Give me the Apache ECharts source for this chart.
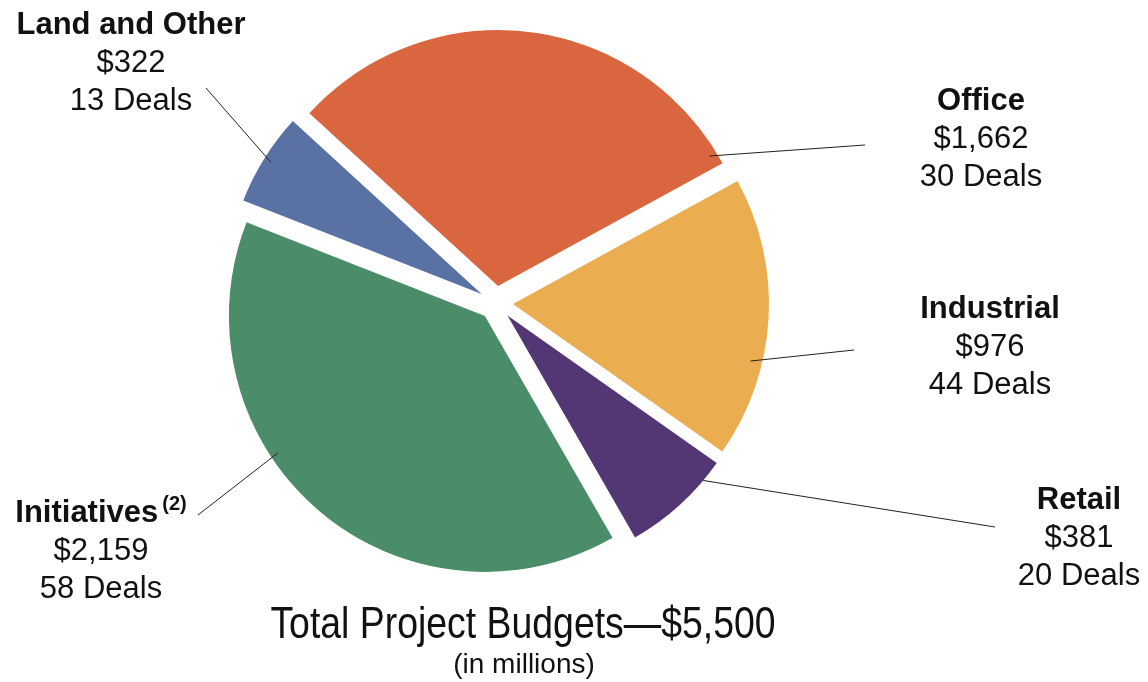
<!DOCTYPE html>
<html>
<head>
<meta charset="utf-8">
<title>Total Project Budgets</title>
<script src="https://cdn.jsdelivr.net/npm/echarts@6/dist/echarts.min.js"></script>
<style>
  html, body { margin: 0; padding: 0; background: #ffffff; }
  #chart { width: 1148px; height: 682px; }
</style>
</head>
<body>
<div id="chart"></div>
<script>
// Project budgets by property type ($ millions) and number of deals
const categories = ['Office', 'Industrial', 'Retail', 'Initiatives', 'Land and Other'];
const budgets = [1662, 976, 381, 2159, 322];
const dealCounts = [30, 44, 20, 58, 13];
const footnotes = ['', '', '', '(2)', ''];
const titleText = 'Total Project Budgets—$5,500';
const subtitleText = '(in millions)';

const sliceColors = ['#D9663F', '#EAAE50', '#533775', '#4B8D68', '#5A71A4'];

// Pie geometry
const PIE_CENTER = [496, 303];
const PIE_RADIUS = 256;
const EXPLODE = 17;
const START_ANGLE = 137.5;

// Label block (centre x, top y) and leader line (angle/radius inside the slice, free end)
const labelPlacement = [
  { x: 981,  y: 82,  lineAngle: 31.6,   lineRatio: 0.97,  lineEnd: [865, 145] },
  { x: 990,  y: 290, lineAngle: -13.5,  lineRatio: 0.955, lineEnd: [854, 350] },
  { x: 1079, y: 481, lineAngle: -40.1,  lineRatio: 1.0,   lineEnd: [995, 527] },
  { x: 101,  y: 494, lineAngle: -146.5, lineRatio: 0.97,  lineEnd: [198, 515] },
  { x: 131,  y: 6,   lineAngle: 148,    lineRatio: 0.97,  lineEnd: [206, 88] }
];

const total = budgets.reduce((a, b) => a + b, 0);

// Mid angle of every slice (degrees, counter-clockwise from 3 o'clock); slices run clockwise
const midAngles = [];
let acc = 0;
budgets.forEach(v => {
  const startA = START_ANGLE - acc / total * 360;
  const span = v / total * 360;
  midAngles.push(startA - span / 2);
  acc += v;
});

// Centre of a slice after it has been pulled out by the selected offset
function sliceCenter(i) {
  const a = midAngles[i] * Math.PI / 180;
  return [PIE_CENTER[0] + Math.cos(a) * EXPLODE, PIE_CENTER[1] - Math.sin(a) * EXPLODE];
}

const fmtMoney = v => '$' + v.toLocaleString('en-US');

const FONT = '"Liberation Sans", Arial, Helvetica, sans-serif';
const INK = '#111111';

const labelRich = {
  name: { fontFamily: FONT, fontSize: 31, fontWeight: 'bold', fill: INK, lineHeight: 38 },
  sup:  { fontFamily: FONT, fontSize: 20, fontWeight: 'bold', fill: INK, lineHeight: 22, verticalAlign: 'top', padding: [0, 0, 0, 4] },
  val:  { fontFamily: FONT, fontSize: 31, fill: INK, lineHeight: 38 }
};

// Slice annotations: leader line + three-line label
const annotations = [];
categories.forEach((name, i) => {
  const place = labelPlacement[i];
  const c = sliceCenter(i);
  const a = place.lineAngle * Math.PI / 180;
  const r = PIE_RADIUS * place.lineRatio;
  annotations.push({
    type: 'line',
    z: 100,
    silent: true,
    shape: {
      x1: c[0] + Math.cos(a) * r,
      y1: c[1] - Math.sin(a) * r,
      x2: place.lineEnd[0],
      y2: place.lineEnd[1]
    },
    style: { stroke: '#222222', lineWidth: 1 }
  });
  const head = '{name|' + name + '}' + (footnotes[i] ? '{sup|' + footnotes[i] + '}' : '');
  annotations.push({
    type: 'text',
    z: 100,
    silent: true,
    x: place.x,
    y: place.y,
    style: {
      text: head + '\n{val|' + fmtMoney(budgets[i]) + '}\n{val|' + dealCounts[i] + ' Deals}',
      rich: labelRich,
      align: 'center',
      verticalAlign: 'top',
      fill: INK,
      fontFamily: FONT,
      fontSize: 31
    }
  });
});

// Caption under the pie
annotations.push({
  type: 'text',
  z: 100,
  silent: true,
  x: 523,
  y: 626,
  scaleX: 0.85,
  style: {
    text: titleText,
    align: 'center',
    verticalAlign: 'middle',
    fill: INK,
    fontFamily: FONT,
    fontSize: 44
  }
});
annotations.push({
  type: 'text',
  z: 100,
  silent: true,
  x: 524,
  y: 665,
  style: {
    text: subtitleText,
    align: 'center',
    verticalAlign: 'middle',
    fill: INK,
    fontFamily: FONT,
    fontSize: 28
  }
});

const pieData = categories.map((name, i) => ({
  name: name,
  value: budgets[i],
  selected: true,
  itemStyle: { color: sliceColors[i] }
}));

const chart = echarts.init(document.getElementById('chart'), null, { renderer: 'canvas' });

chart.setOption({
  animation: false,
  backgroundColor: '#ffffff',
  series: [
    {
      type: 'pie',
      center: PIE_CENTER,
      radius: PIE_RADIUS,
      startAngle: START_ANGLE,
      clockwise: true,
      selectedMode: 'multiple',
      selectedOffset: EXPLODE,
      emphasis: { disabled: true, scale: false },
      select: { itemStyle: { borderWidth: 0 } },
      itemStyle: { borderWidth: 0 },
      label: { show: false },
      labelLine: { show: false },
      data: pieData
    }
  ],
  graphic: annotations
});
</script>
</body>
</html>
